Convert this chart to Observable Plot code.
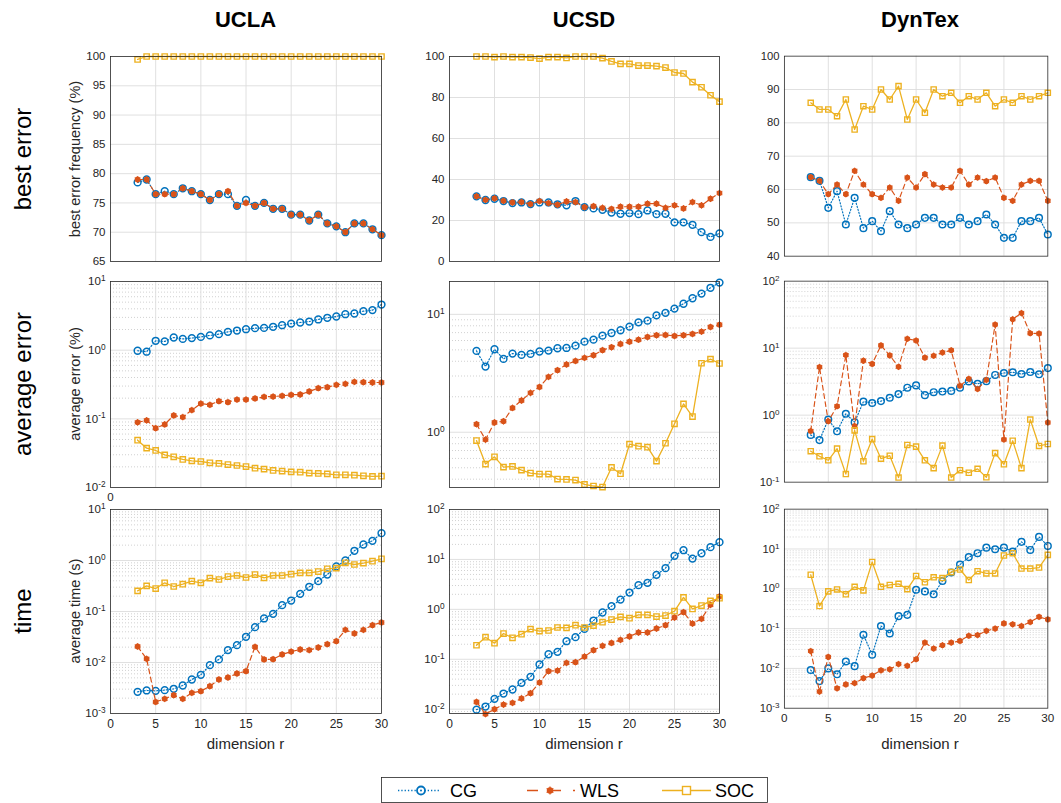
<!DOCTYPE html>
<html><head><meta charset="utf-8">
<script src="https://cdn.jsdelivr.net/npm/d3@7"></script>
<script src="https://cdn.jsdelivr.net/npm/@observablehq/plot@0.6"></script>
<style>
body{margin:0;background:#fff;font-family:"Liberation Sans",Arial,sans-serif;color:#262626}
#fig{position:relative;width:1061px;height:803px;overflow:hidden;background:#fff}
.abs{position:absolute}
.title{font-weight:bold;font-size:22px;color:#000;transform:translate(-50%,-50%);white-space:nowrap}
.rowlab{font-size:24px;color:#000;transform:translate(-50%,-50%) rotate(-90deg);white-space:nowrap}
.ylab{font-size:14.5px;color:#262626;transform:translate(-50%,-50%) rotate(-90deg);white-space:nowrap}
.xlab{font-size:15px;color:#262626;transform:translate(-50%,-50%);white-space:nowrap}
</style></head>
<body><div id="fig"></div>
<script>
// ---------------- data ----------------
const dims = [3,4,5,6,7,8,9,10,11,12,13,14,15,16,17,18,19,20,21,22,23,24,25,26,27,28,29,30];
const xTicks = [0,5,10,15,20,25,30];
const datasets = ["UCLA","UCSD","DynTex"];
const rowNames = ["best error","average error","time"];
const yLabels = ["best error frequency (%)","average error (%)","average time (s)"];
const seriesNames = ["CG","WLS","SOC"];

// best error frequency (%)
const uclaBestCG  = [78.5,79,76.5,77,76.5,77.5,77,76.5,75.5,76.5,76.5,74.5,75.5,74.5,75,74,74,73,73,72,73,71.5,71,70,71.5,71.5,70.5,69.5];
const uclaBestWLS = [79,79,76.5,76.5,76.5,77.5,77,76.5,75.5,76.5,77,74.5,75,74.5,75,74,74,73,73,72,73,71.5,71,70,71.5,71.5,70.5,69.5];
const uclaBestSOC = [99.5,100,100,100,100,100,100,100,100,100,100,100,100,100,100,100,100,100,100,100,100,100,100,100,100,100,100,100];
const ucsdBestCG  = [31.8,30,30.6,29.5,28.5,28.8,28,28.8,28.8,27.9,27.4,29.5,26.5,25.9,25.2,23.9,23.3,23.6,23.1,24.9,23.1,23.3,19.1,19.1,17.9,14.3,12,13.7];
const ucsdBestWLS = [31.8,30.1,30.8,29.6,28.8,29,28,29.5,28.5,27.7,29.3,29,26.5,27,26.2,25.6,26.7,26.7,26.7,28.2,28.2,26.2,27.4,25.9,29,27.4,30.6,33.4];
const ucsdBestSOC = [100,100,99.7,100,99.7,99.7,99.5,99,99.7,99.7,99.3,100,100,100,99.2,97.6,96.4,96.4,95.6,95.6,95.3,94.6,92.2,91.7,87.5,85,81.1,78];
const dynBestCG   = [63.7,62.6,54.5,59.5,49.5,57.5,48.4,50.5,47.5,53.5,49.5,48.4,49.5,51.5,51.5,49.5,49.5,51.5,49.5,50.5,52.5,49.5,45.5,45.5,50.5,50.5,51.5,46.5];
const dynBestWLS  = [63.7,62.6,58.6,61.5,58.6,65.6,61.5,58.6,57.5,60.6,56.6,63.6,60.6,64.6,61.5,60.6,60.6,65.6,61.5,63.6,62.5,63.6,57.5,56.6,61.5,62.6,62.6,56.6];
const dynBestSOC  = [86,84,84,82,87,78,85,84,90,87,91,81,87,83,90,88,89,86,88,87,89,85,87,86,88,87,88,89];

// average error (%)
const uclaAvgCG  = [0.98,0.95,1.37,1.34,1.53,1.46,1.5,1.56,1.64,1.71,1.85,1.93,2.02,2.09,2.11,2.19,2.31,2.44,2.53,2.61,2.8,2.96,3.09,3.34,3.42,3.7,3.83,4.62];
const uclaAvgWLS = [0.089,0.095,0.073,0.083,0.112,0.106,0.134,0.167,0.16,0.181,0.175,0.191,0.191,0.198,0.209,0.211,0.216,0.224,0.226,0.25,0.28,0.289,0.313,0.324,0.346,0.342,0.338,0.338];
const uclaAvgSOC = [0.0489,0.0374,0.0346,0.0299,0.028,0.0256,0.0244,0.0239,0.0229,0.0224,0.0216,0.0209,0.0202,0.0191,0.0185,0.0177,0.0173,0.0169,0.0167,0.0162,0.016,0.0158,0.0153,0.0153,0.0151,0.0148,0.0145,0.0146];
const ucsdAvgCG  = [4.9,3.61,5.06,4.19,4.65,4.53,4.62,4.84,4.93,5.16,5.19,5.43,5.87,6.1,6.6,6.95,7.33,7.87,8.56,8.84,9.81,10.3,11.2,12.3,13.7,15,16.8,18.6];
const ucsdAvgWLS = [1.17,0.867,1.21,1.24,1.61,1.86,2.16,2.42,2.95,3.36,3.76,4.03,4.28,4.5,4.97,5.26,5.61,5.87,6.1,6.43,6.65,6.69,6.56,6.65,6.82,7.14,7.81,8.18];
const ucsdAvgSOC = [0.85,0.537,0.619,0.506,0.513,0.477,0.451,0.442,0.442,0.401,0.398,0.393,0.361,0.35,0.343,0.503,0.445,0.792,0.762,0.747,0.569,0.807,1.18,1.74,1.36,3.85,4.17,3.83];
const dynAvgCG   = [0.507,0.424,0.859,0.574,1.05,0.785,1.59,1.52,1.62,1.82,2.06,2.57,2.78,1.99,2.2,2.25,2.3,2.57,3.18,2.94,3.22,3.98,4.26,4.36,4.11,4.4,4.07,5.04];
const dynAvgWLS  = [0.58,5.21,0.81,1.36,7.87,0.687,6.51,5.82,11,7.79,5.26,13.8,13,7.21,7.71,8.61,9.31,2.75,3.48,2.46,3.37,22.5,0.433,27,33.4,16.7,16.5,0.776];
const dynAvgSOC  = [0.29,0.243,0.212,0.317,0.132,0.593,0.205,0.439,0.224,0.248,0.117,0.359,0.339,0.212,0.162,0.351,0.117,0.151,0.138,0.158,0.118,0.271,0.185,0.415,0.162,0.859,0.347,0.371];

// average time (s)
const uclaTimeCG  = [0.00266,0.00283,0.00278,0.00287,0.00305,0.00354,0.00464,0.00573,0.00887,0.0115,0.0175,0.0219,0.0319,0.0493,0.073,0.09,0.133,0.164,0.222,0.305,0.394,0.531,0.762,1.0,1.55,2.06,2.43,3.44];
const uclaTimeWLS = [0.0206,0.0118,0.00169,0.00194,0.00229,0.00194,0.00254,0.00274,0.00343,0.00464,0.00508,0.00608,0.00676,0.0203,0.0115,0.0116,0.0144,0.0164,0.018,0.0175,0.0197,0.0229,0.0262,0.0437,0.0371,0.0437,0.054,0.0608];
const uclaTimeSOC = [0.254,0.318,0.282,0.365,0.309,0.343,0.394,0.365,0.451,0.424,0.485,0.508,0.464,0.531,0.457,0.508,0.508,0.539,0.573,0.573,0.608,0.687,0.708,0.9,0.835,0.887,0.97,1.08];
const ucsdTimeCG  = [0.0098,0.0113,0.0161,0.0206,0.0248,0.0337,0.0445,0.0785,0.126,0.141,0.23,0.277,0.406,0.597,0.865,1.16,1.57,2.17,3.05,3.4,4.91,6.68,11.8,15.3,10.4,13.3,17.6,22.2];
const ucsdTimeWLS = [0.014,0.008,0.01,0.0124,0.0134,0.0164,0.0209,0.0342,0.0577,0.0595,0.0848,0.0875,0.1135,0.152,0.186,0.213,0.245,0.286,0.344,0.344,0.413,0.482,0.686,0.877,0.52,0.645,1.23,1.81];
const ucsdTimeSOC = [0.191,0.277,0.21,0.328,0.269,0.318,0.401,0.366,0.377,0.433,0.426,0.482,0.433,0.474,0.553,0.625,0.708,0.665,0.776,0.776,0.718,0.752,0.918,1.73,1.02,1.19,1.48,1.67];
const dynTimeCG   = [0.0091,0.00479,0.01,0.0071,0.0149,0.0114,0.0698,0.0221,0.116,0.0754,0.205,0.221,0.944,0.859,0.726,1.57,2.57,4.05,6.24,7.82,10.8,9.82,10.8,8.59,15.1,9.44,20.1,11.9];
const dynTimeWLS  = [0.0272,0.00262,0.0194,0.00316,0.00396,0.00427,0.00567,0.0066,0.00893,0.00945,0.0128,0.0116,0.017,0.0445,0.0316,0.0382,0.0445,0.0489,0.0661,0.0686,0.0877,0.1,0.135,0.128,0.116,0.146,0.197,0.17];
const dynTimeSOC  = [2.25,0.368,0.859,0.964,0.726,1.12,0.91,4.7,1.12,1.25,1.33,0.98,2.09,1.46,1.94,1.86,2.62,3.05,1.66,2.77,2.43,2.43,6.85,7.82,3.22,3.22,3.41,7.11];

// y scales (domains and tick labels)
const bestTicks = [[65,70,75,80,85,90,95,100],[0,20,40,60,80,100],[40,50,60,70,80,90,100]];
const bestDomains = [[65,100],[0,100],[40,100]];
const avgTicks = [[0.01,0.1,1,10],[1,10],[0.1,1,10,100]];
const avgDomains = [[0.01,10],[0.34,19],[0.1,100]];
const timeTicks = [[0.001,0.01,0.1,1,10],[0.01,0.1,1,10,100],[0.001,0.01,0.1,1,10,100]];
const timeDomains = [[0.001,10],[0.0082,100],[0.001,100]];

// ---------------- layout ----------------
const COLORS = {CG:"#0072BD", WLS:"#D95319", SOC:"#EDB120"};
const colX = [110,449,785], colW = [271,270,270];
const rowY = [56,281,509], rowH = [205,206,204];
const ML = 46, MR = 14, MT = 14, MB = 32;
const fig = document.getElementById("fig");

function superscripts(svg){
  svg.querySelectorAll("text").forEach(t=>{
    const m = /^10\^(-?\d+)$/.exec(t.textContent);
    if(m){
      t.textContent = "10";
      const ts = document.createElementNS("http://www.w3.org/2000/svg","tspan");
      ts.setAttribute("dy","-0.5em");
      ts.setAttribute("font-size","0.72em");
      ts.textContent = m[1];
      t.appendChild(ts);
    }
  });
}

function panel(row, col, cg, wls, soc, log, domain, ticks){
  const rows = s => dims.map((r,i)=>({r, v:s[i]}));
  const C = rows(cg), W = rows(wls), S = rows(soc);
  const w = colW[col], h = rowH[row];
  const marks = [];
  if(log){
    const minor = d3.scaleLog().domain(domain).ticks()
      .filter(t=>!ticks.some(m=>Math.abs(m-t)/t<1e-6));
    marks.push(Plot.ruleY(minor,{stroke:"#bdbdbd",strokeWidth:0.7,strokeDasharray:"1,2"}));
  }
  marks.push(Plot.ruleX(xTicks.filter(x=>x>0&&x<30),{stroke:"#dcdcdc",strokeWidth:0.9}));
  marks.push(Plot.ruleY(ticks.filter(t=>t>domain[0]&&t<domain[1]),{stroke:"#dcdcdc",strokeWidth:0.9}));
  // CG
  marks.push(Plot.line(C,{x:"r",y:"v",stroke:COLORS.CG,strokeWidth:1.2,strokeDasharray:"1.2,2"}));
  marks.push(Plot.dot(C,{x:"r",y:"v",stroke:COLORS.CG,fill:"none",r:3.4,strokeWidth:1.5}));
  // WLS
  marks.push(Plot.line(W,{x:"r",y:"v",stroke:COLORS.WLS,strokeWidth:1.2,strokeDasharray:"5,3.5"}));
  marks.push(Plot.dot(W,{x:"r",y:"v",fill:COLORS.WLS,stroke:"none",r:2.9}));
  marks.push(Plot.dot(W,{x:"r",y:"v",symbol:"asterisk",stroke:COLORS.WLS,r:3.1,strokeWidth:1}));
  // SOC
  marks.push(Plot.line(S,{x:"r",y:"v",stroke:COLORS.SOC,strokeWidth:1.3}));
  marks.push(Plot.dot(S,{x:"r",y:"v",symbol:"square",stroke:COLORS.SOC,fill:"none",r:3,strokeWidth:1.4}));
  marks.push(Plot.frame({stroke:"#262626",strokeWidth:0.8}));
  marks.push(Plot.axisY({ticks, tickSize:0, tickPadding:5, label:null,
    tickFormat: log ? d=>`10^${Math.round(Math.log10(d))}` : d=>String(d)}));
  if(row===2){
    marks.push(Plot.axisX({ticks:xTicks, tickSize:0, tickPadding:6, label:null, fontSize:12, tickFormat:d=>String(d)}));
  } else if(row===1 && col===0){
    marks.push(Plot.axisX({ticks:[0], tickSize:0, tickPadding:5, label:null, tickFormat:d=>String(d)}));
  }
  const svg = Plot.plot({
    width: ML+w+MR, height: MT+h+MB,
    marginLeft:ML, marginRight:MR, marginTop:MT, marginBottom:MB,
    x:{domain:[0,30], axis:null},
    y:{type: log?"log":"linear", domain, axis:null},
    style:{fontFamily:'"Liberation Sans",Arial,sans-serif', fontSize:"11.5px", color:"#262626", background:"transparent", overflow:"visible"},
    marks
  });
  superscripts(svg);
  const wrap = document.createElement("div");
  wrap.className = "abs";
  wrap.style.left = (colX[col]-ML)+"px";
  wrap.style.top = (rowY[row]-MT)+"px";
  wrap.appendChild(svg);
  fig.appendChild(wrap);
}

panel(0,0,uclaBestCG,uclaBestWLS,uclaBestSOC,false,bestDomains[0],bestTicks[0]);
panel(0,1,ucsdBestCG,ucsdBestWLS,ucsdBestSOC,false,bestDomains[1],bestTicks[1]);
panel(0,2,dynBestCG,dynBestWLS,dynBestSOC,false,bestDomains[2],bestTicks[2]);
panel(1,0,uclaAvgCG,uclaAvgWLS,uclaAvgSOC,true,avgDomains[0],avgTicks[0]);
panel(1,1,ucsdAvgCG,ucsdAvgWLS,ucsdAvgSOC,true,avgDomains[1],avgTicks[1]);
panel(1,2,dynAvgCG,dynAvgWLS,dynAvgSOC,true,avgDomains[2],avgTicks[2]);
panel(2,0,uclaTimeCG,uclaTimeWLS,uclaTimeSOC,true,timeDomains[0],timeTicks[0]);
panel(2,1,ucsdTimeCG,ucsdTimeWLS,ucsdTimeSOC,true,timeDomains[1],timeTicks[1]);
panel(2,2,dynTimeCG,dynTimeWLS,dynTimeSOC,true,timeDomains[2],timeTicks[2]);

function addText(cls, txt, x, y){
  const d = document.createElement("div");
  d.className = "abs "+cls; d.textContent = txt;
  d.style.left = x+"px"; d.style.top = y+"px";
  fig.appendChild(d);
}
datasets.forEach((t,i)=>addText("title", t, colX[i]+colW[i]/2, 20));
rowNames.forEach((t,i)=>addText("rowlab", t, 23, rowY[i]+rowH[i]/2));
yLabels.forEach((t,i)=>addText("ylab", t, 75, rowY[i]+rowH[i]/2));
datasets.forEach((t,i)=>addText("xlab", "dimension r", colX[i]+colW[i]/2, 743));

// legend
const NS = "http://www.w3.org/2000/svg";
const leg = document.createElementNS(NS,"svg");
leg.setAttribute("width","390"); leg.setAttribute("height","27");
leg.style.position="absolute"; leg.style.left="381px"; leg.style.top="777px";
leg.style.fontFamily='"Liberation Sans",Arial,sans-serif';
let s = `<rect x="0.5" y="0.5" width="386" height="25" fill="#fff" stroke="#262626" stroke-width="0.8"/>`;
s += `<line x1="17" x2="59" y1="13.5" y2="13.5" stroke="${COLORS.CG}" stroke-width="1.4" stroke-dasharray="1.3,2"/>`;
s += `<circle cx="40" cy="13.5" r="4" fill="#fff" stroke="${COLORS.CG}" stroke-width="1.8"/>`;
s += `<circle cx="40" cy="13.5" r="1" fill="${COLORS.CG}"/>`;
s += `<text x="69" y="20" font-size="18" fill="#000">${seriesNames[0]}</text>`;
s += `<line x1="146" x2="194" y1="13.5" y2="13.5" stroke="${COLORS.WLS}" stroke-width="1.4" stroke-dasharray="11,12"/>`;
s += `<circle cx="169" cy="13.5" r="3.2" fill="${COLORS.WLS}"/>`;
s += `<path d="M169,9.5V17.5M165.6,11.5L172.4,15.5M165.6,15.5L172.4,11.5" stroke="${COLORS.WLS}" stroke-width="1.2"/>`;
s += `<text x="199" y="20" font-size="18" fill="#000">${seriesNames[1]}</text>`;
s += `<line x1="281" x2="330" y1="13.5" y2="13.5" stroke="${COLORS.SOC}" stroke-width="1.4"/>`;
s += `<rect x="301.5" y="9.5" width="8" height="8" fill="#fff" stroke="${COLORS.SOC}" stroke-width="1.4"/>`;
s += `<text x="334" y="20" font-size="18" fill="#000">${seriesNames[2]}</text>`;
leg.innerHTML = s;
fig.appendChild(leg);
</script></body></html>
